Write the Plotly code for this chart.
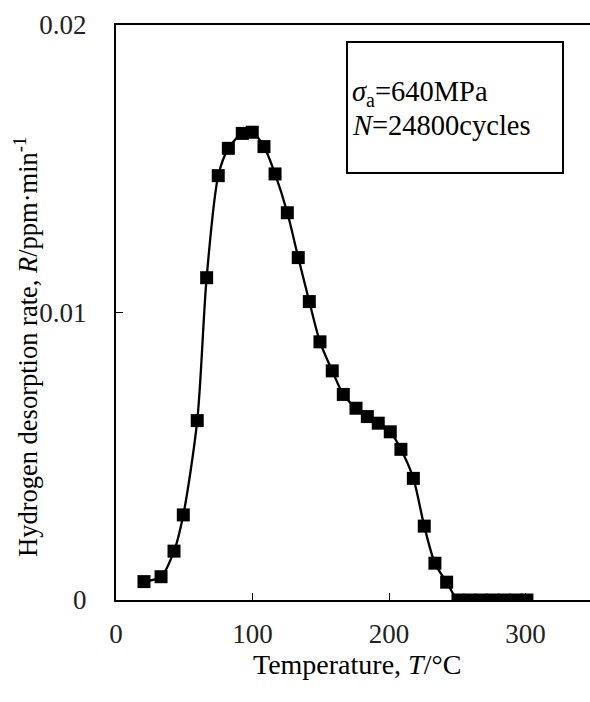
import plotly.graph_objects as go

temperature = [20.5, 33.0, 42.5, 49.3, 59.5, 66.4, 74.9, 82.3, 92.5, 99.8, 108.4, 116.5,
               125.5, 133.5, 141.6, 149.4, 158.4, 166.5, 175.8, 184.1, 192.1, 200.9, 208.7,
               217.8, 225.8, 233.6, 242.2, 250.5, 259.0, 267.5, 276.0, 284.5, 293.0, 301.0]
rate = [0.00064, 0.00081, 0.00170, 0.00296, 0.00624, 0.01121, 0.01476, 0.01571, 0.01623,
        0.01627, 0.01577, 0.01482, 0.01347, 0.01191, 0.01038, 0.00898, 0.00797, 0.00715,
        0.00667, 0.00638, 0.00615, 0.00585, 0.00524, 0.00423, 0.00257, 0.00128, 0.00062,
        0.0, 0.0, 0.0, 0.0, 0.0, 0.0, 0.0]
x_ticks = [0, 100, 200, 300]
y_ticks = [0, 0.01, 0.02]
y_tick_labels = ["0", "0.01", "0.02"]

FONT = "Liberation Serif"
W, H = 590, 702
L, R, T, B = 116, 0, 25, 102
pw, ph = W - L - R, H - T - B

def px(xp):
    return (xp - L) / pw

def py(yp):
    return (H - B - yp) / ph

fig = go.Figure()
fig.add_trace(go.Scatter(
    x=temperature, y=rate, mode="lines+markers",
    line=dict(color="black", width=2.3, shape="spline", smoothing=0.8),
    marker=dict(symbol="square", size=13, color="black"),
    showlegend=False,
))

fig.update_layout(
    width=W, height=H,
    margin=dict(l=L, r=R, t=T, b=B),
    plot_bgcolor="white", paper_bgcolor="white",
    font=dict(family=FONT, color="black", size=26),
    xaxis=dict(range=[0, 347.2], tickvals=x_ticks, ticks="inside", ticklen=7,
               tickwidth=1, tickcolor="black", showline=True, linecolor="black",
               linewidth=2, mirror=True, showgrid=False, zeroline=False,
               ticklabelstandoff=9, tickfont=dict(family=FONT, size=27, color="#222")),
    yaxis=dict(range=[0, 0.02], tickvals=y_ticks, ticktext=y_tick_labels, ticks="inside",
               ticklen=7, tickwidth=1, tickcolor="black", showline=True,
               linecolor="black", linewidth=2, showgrid=False, zeroline=False,
               ticklabelstandoff=22, tickfont=dict(family=FONT, size=27, color="#222")),
)

fig.add_shape(type="rect", xref="paper", yref="paper",
              x0=px(347), x1=px(563), y0=py(173), y1=py(42),
              line=dict(color="black", width=2), fillcolor="rgba(0,0,0,0)")

fig.add_annotation(xref="paper", yref="paper", x=px(350), y=py(93),
                   xanchor="left", yanchor="middle", showarrow=False,
                   text="<i>σ</i><sub>a</sub>=640MPa",
                   font=dict(family=FONT, size=28.5, color="black"))
fig.add_annotation(xref="paper", yref="paper", x=px(350), y=py(126),
                   xanchor="left", yanchor="middle", showarrow=False,
                   text="<i>N</i>=24800cycles",
                   font=dict(family=FONT, size=28.5, color="black"))

fig.add_annotation(xref="paper", yref="paper", x=px(357), y=py(664),
                   xanchor="center", yanchor="middle", showarrow=False,
                   text="Temperature, <i>T</i>/°C",
                   font=dict(family=FONT, size=28, color="black"))
fig.add_annotation(xref="paper", yref="paper", x=px(26), y=py(347),
                   xanchor="center", yanchor="middle", showarrow=False, textangle=-90,
                   text="Hydrogen desorption rate, <i>R</i>/ppm·min<sup>-1</sup>",
                   font=dict(family=FONT, size=26.5, color="black"))

fig.write_html("out.html")
